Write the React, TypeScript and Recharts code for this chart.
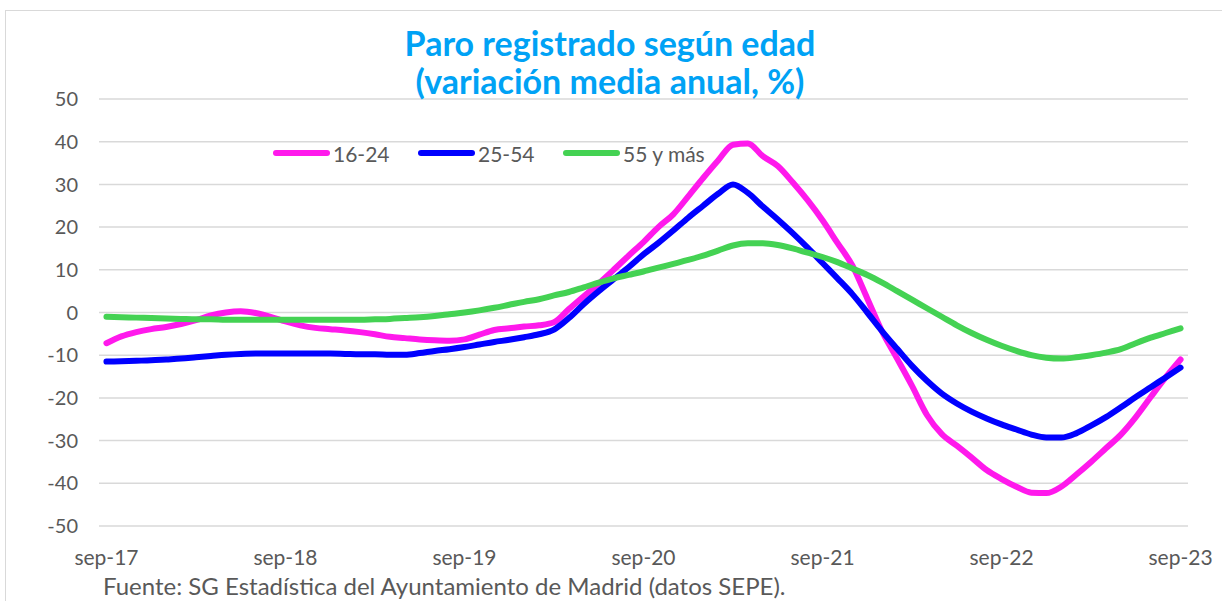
import React from "react";
import { LineChart, Line, XAxis, YAxis, CartesianGrid, Legend } from "recharts";

const MONTHS = ["sep", "oct", "nov", "dic", "ene", "feb", "mar", "abr", "may", "jun", "jul", "ago"];
const categories: string[] = Array.from({ length: 73 }, (_, i) => `${MONTHS[i % 12]}-${17 + Math.floor((i + 8) / 12)}`);

const yTicks = [-50, -40, -30, -20, -10, 0, 10, 20, 30, 40, 50];

const s1624 = [
  -7.2, -5.6, -4.6, -3.9, -3.4, -2.7, -1.8, -0.7, 0.0, 0.3, -0.1, -1.0,
  -2.1, -3.0, -3.6, -3.9, -4.2, -4.6, -5.1, -5.7, -6.0, -6.3, -6.5, -6.6,
  -6.3, -5.2, -4.1, -3.7, -3.3, -3.0, -2.3, 0.8, 3.8, 6.8, 10.0, 13.3,
  16.5, 20.0, 23.0, 27.2, 31.5, 35.6, 39.3, 39.6, 36.6, 34.3, 30.5, 26.3,
  21.6, 16.3, 11.0, 3.3, -4.5, -10.8, -17.2, -24.0, -28.5, -31.2, -34.0, -36.9,
  -39.0, -40.8, -42.2, -42.3, -40.8, -38.0, -35.0, -31.8, -28.6, -24.5, -19.8, -15.2,
  -11.0,
];

const s2554 = [
  -11.5, -11.4, -11.3, -11.2, -11.0, -10.8, -10.5, -10.2, -9.9, -9.7, -9.6, -9.6,
  -9.6, -9.6, -9.6, -9.6, -9.7, -9.8, -9.8, -9.9, -9.9, -9.5, -9.0, -8.6,
  -8.1, -7.5, -6.9, -6.4, -5.8, -5.1, -4.0, -1.3, 2.0, 5.0, 7.8, 10.6,
  13.6, 16.3, 19.2, 22.2, 25.0, 27.8, 30.0, 28.0, 24.8, 21.8, 18.6, 15.2,
  11.6, 8.0, 4.3, 0.0, -4.4, -8.5, -12.5, -16.0, -19.0, -21.3, -23.2, -24.8,
  -26.2, -27.4, -28.6, -29.3, -29.3, -28.3, -26.5, -24.5, -22.2, -19.8, -17.5, -15.2,
  -12.9,
];

const s55 = [
  -1.0, -1.1, -1.2, -1.3, -1.4, -1.5, -1.6, -1.6, -1.7, -1.7, -1.7, -1.7,
  -1.7, -1.7, -1.7, -1.7, -1.7, -1.7, -1.6, -1.5, -1.3, -1.1, -0.8, -0.4,
  0.0, 0.5, 1.1, 1.8, 2.5, 3.1, 4.0, 4.8, 5.9, 7.0, 8.0, 8.8,
  9.6, 10.5, 11.4, 12.3, 13.3, 14.5, 15.7, 16.2, 16.2, 15.8, 15.0, 14.0,
  13.0, 11.8, 10.3, 8.8, 7.0, 5.0, 3.0, 1.0, -1.0, -3.0, -4.8, -6.4,
  -7.8, -9.0, -10.0, -10.6, -10.8, -10.5, -10.0, -9.4, -8.6, -7.2, -5.9, -4.8,
  -3.7,
];

const seriesNames = ["16-24", "25-54", "55 y más"];
const seriesColors = ["#FF19EC", "#0000FF", "#44D253"];

const data = categories.map((month, i) => ({
  month,
  a: s1624[i],
  b: s2554[i],
  c: s55[i],
}));

const FONT = "Lato, 'Open Sans', sans-serif";
const GRAY = "#595959";

const legendX = [273, 418, 563];

function LegendContent(props: any) {
  const payload = props.payload || [];
  return (
    <div style={{ position: "relative", width: 1222, height: 26 }}>
      {payload.map((p: any, i: number) => (
        <div key={i} style={{ position: "absolute", left: legendX[i], top: 0, height: 26, display: "flex", alignItems: "center" }}>
          <div style={{ width: 57, height: 6, borderRadius: 3, background: p.color }} />
          <span style={{ marginLeft: 3, fontFamily: FONT, fontSize: 21, color: GRAY }}>{p.value}</span>
        </div>
      ))}
    </div>
  );
}

export default function App() {
  return (
    <div style={{ position: "absolute", left: 0, top: 0, width: 1222, height: 601, overflow: "hidden", background: "#fff" }}>
      <div style={{ position: "absolute", left: 5, top: 10, width: 1400, height: 800, border: "1.5px solid #d9d9d9" }} />
      <LineChart
        width={1222}
        height={601}
        data={data}
        margin={{ top: 99, right: 34, bottom: 25, left: 39 }}
        style={{ position: "absolute", left: 0, top: 0 }}
      >
        <CartesianGrid vertical={false} stroke="#d9d9d9" strokeWidth={1.5} />
        <XAxis
          dataKey="month"
          interval={11}
          padding={{ left: 7.45, right: 7.45 }}
          axisLine={false}
          tickLine={false}
          tickSize={0}
          tickMargin={24}
          height={50}
          tick={{ fill: GRAY, fontSize: 21, fontFamily: FONT }}
        />
        <YAxis
          domain={[-50, 50]}
          ticks={yTicks}
          width={60}
          axisLine={false}
          tickLine={false}
          tickSize={0}
          tickMargin={21}
          tick={{ fill: GRAY, fontSize: 20, fontFamily: FONT }}
        />
        <Legend
          verticalAlign="middle"
          align="center"
          layout="horizontal"
          content={<LegendContent />}
          wrapperStyle={{ position: "absolute", top: 140, left: 0, width: 1222, height: 26 }}
        />
        <Line type="monotone" dataKey="a" name={seriesNames[0]} stroke={seriesColors[0]} strokeWidth={6} dot={false} strokeLinecap="round" isAnimationActive={false} />
        <Line type="monotone" dataKey="b" name={seriesNames[1]} stroke={seriesColors[1]} strokeWidth={6} dot={false} strokeLinecap="round" isAnimationActive={false} />
        <Line type="monotone" dataKey="c" name={seriesNames[2]} stroke={seriesColors[2]} strokeWidth={6} dot={false} strokeLinecap="round" isAnimationActive={false} />
      </LineChart>
      <svg width={1222} height={601} style={{ position: "absolute", left: 0, top: 0, pointerEvents: "none" }}>
        <text x={610} y={56} textAnchor="middle" fill="#00A2F5" fontFamily={FONT} fontWeight={700} fontSize={34}>
          Paro registrado según edad
        </text>
        <text x={610} y={94} textAnchor="middle" fill="#00A2F5" fontFamily={FONT} fontWeight={700} fontSize={34}>
          (variación media anual, %)
        </text>
        <text x={103} y={595} fill={GRAY} fontFamily={FONT} fontSize={24}>
          Fuente: SG Estadística del Ayuntamiento de Madrid (datos SEPE).
        </text>
      </svg>
    </div>
  );
}
